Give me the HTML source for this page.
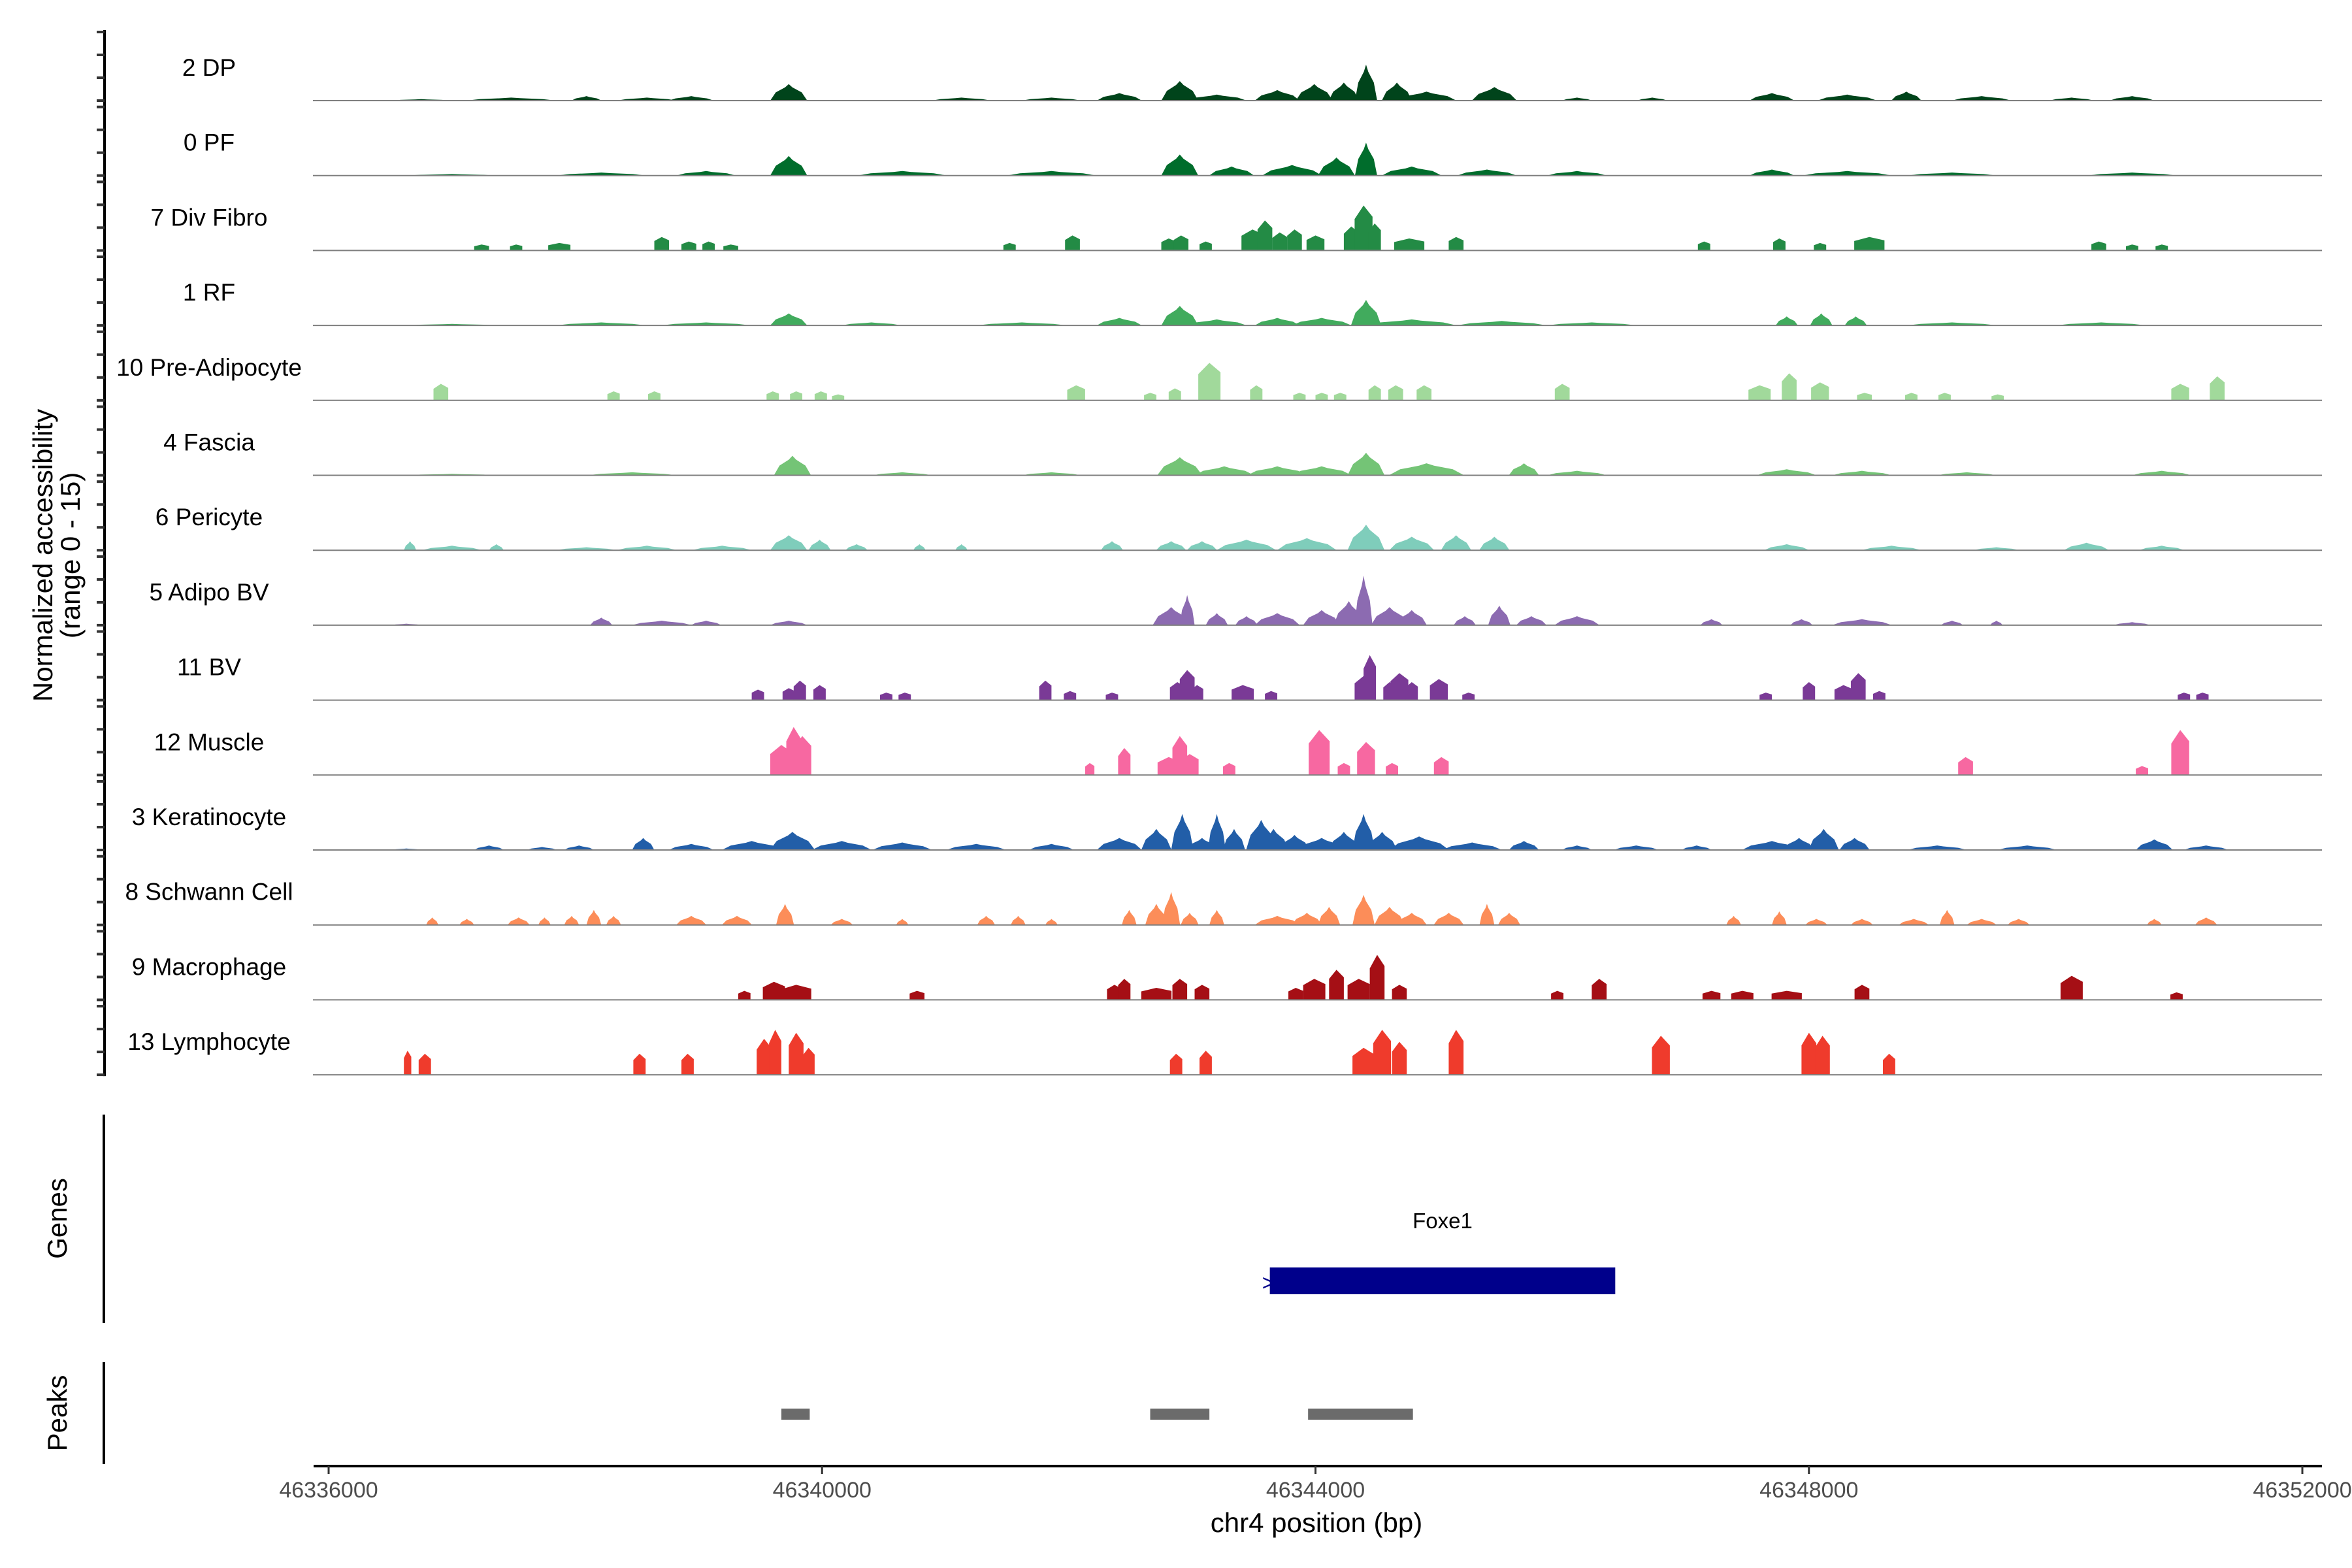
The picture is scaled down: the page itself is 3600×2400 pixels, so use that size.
<!DOCTYPE html>
<html><head><meta charset="utf-8"><style>
html,body{margin:0;padding:0;background:#fff;}
svg{display:block;font-family:"Liberation Sans",Arial,sans-serif;}
</style></head><body>
<svg id="chart" width="3600" height="2400" viewBox="0 0 3600 2400" xmlns="http://www.w3.org/2000/svg">
<g id="tracks"></g>
<text transform="translate(80,850) rotate(-90)" text-anchor="middle" font-size="42" fill="#000">Normalized accessibility</text>
<text transform="translate(122,850) rotate(-90)" text-anchor="middle" font-size="42" fill="#000">(range 0 - 15)</text>
<line x1="159" y1="1706" x2="159" y2="2025" stroke="#000" stroke-width="4"/>
<text transform="translate(102,1865) rotate(-90)" text-anchor="middle" font-size="42" fill="#000">Genes</text>
<g id="genes"></g>
<line x1="159" y1="2085" x2="159" y2="2241" stroke="#000" stroke-width="4"/>
<text transform="translate(102,2163) rotate(-90)" text-anchor="middle" font-size="42" fill="#000">Peaks</text>
<g id="peaks"></g>
<g id="xaxis"></g>
<text x="2015" y="2345" text-anchor="middle" font-size="42" fill="#000">chr4 position (bp)</text>
</svg>
<script>
// ---- data ----
const trackNames = ["2 DP","0 PF","7 Div Fibro","1 RF","10 Pre-Adipocyte","4 Fascia","6 Pericyte","5 Adipo BV","11 BV","12 Muscle","3 Keratinocyte","8 Schwann Cell","9 Macrophage","13 Lymphocyte"];
const trackColors = ["#00441b","#006d2c","#238b45","#41ab5d","#a1d99b","#74c476","#7fcdbb","#8c6bb1","#7a3a96","#f768a1","#225ea8","#fc8d59","#a50f15","#ef3b2c"];
const blocky = [false,false,true,false,true,false,false,false,true,true,false,false,true,true];
const xTicks = [46336000,46340000,46344000,46348000,46352000];
const xTickLabels = ["46336000","46340000","46344000","46348000","46352000"];
// peaks: [position bp, width bp, height (display units; 45.7 = 15)]
const dpPeaks=[[46336750,485,1],[46337480,730,2],[46338090,245,3],[46338580,485,2],[46338940,365,3],[46339730,300,11],[46341130,485,2],[46341860,485,2],[46342410,365,5],[46342900,300,13],[46343200,485,4],[46343690,365,7],[46343990,300,11],[46344230,245,12],[46344410,180,24],[46344660,245,12],[46344900,485,6],[46345450,365,9],[46346120,245,2],[46346730,245,2],[46347700,365,5],[46348310,485,4],[46348790,245,6],[46349400,485,3],[46350130,365,2],[46350620,365,3]];
const pfPeaks=[[46337000,730,1],[46338210,730,2],[46339060,485,3],[46339730,300,13],[46340650,730,3],[46341860,730,3],[46342900,300,14],[46343320,365,6],[46343810,485,7],[46344170,300,12],[46344410,180,22],[46344780,485,6],[46345390,485,4],[46346120,485,3],[46347700,365,4],[46348310,730,3],[46349160,730,2],[46350620,730,2]];
const divFibroPeaks=[[46337240,120,4],[46337520,100,4],[46337870,180,5],[46338700,120,9],[46338920,120,6],[46339080,100,6],[46339260,120,4],[46341520,100,5],[46342030,120,10],[46342810,120,8],[46342910,120,10],[46343110,100,6],[46343490,180,14],[46343590,120,20],[46343710,120,12],[46343830,120,14],[46344000,145,10],[46344290,120,16],[46344390,145,30],[46344480,100,18],[46344760,245,8],[46345140,120,9],[46347150,100,6],[46347760,100,8],[46348090,100,5],[46348490,245,9],[46350350,120,6],[46350620,100,4],[46350860,100,4]];
const rfPeaks=[[46337000,730,1],[46338210,730,2],[46339060,730,2],[46339730,300,8],[46340400,485,2],[46341620,730,2],[46342410,365,5],[46342900,300,13],[46343200,485,4],[46343690,365,5],[46344050,485,5],[46344410,245,17],[46344780,730,4],[46345510,730,3],[46346240,730,2],[46347820,180,6],[46348100,180,8],[46348380,180,6],[46349160,730,2],[46350370,730,2]];
const preAdPeaks=[[46336910,120,11],[46338310,100,6],[46338640,100,6],[46339600,100,6],[46339790,100,6],[46339990,100,6],[46340130,100,4],[46342060,145,10],[46342660,100,5],[46342860,100,8],[46343140,180,25],[46343520,100,10],[46343870,100,5],[46344050,100,5],[46344200,100,5],[46344480,100,10],[46344650,120,10],[46344880,120,10],[46346000,120,11],[46347600,180,10],[46347840,120,18],[46348090,145,12],[46348450,120,5],[46348830,100,5],[46349100,100,5],[46349530,100,4],[46351010,145,11],[46351310,120,16]];
const fasciaPeaks=[[46337000,730,1],[46338460,730,2],[46339760,300,13],[46340650,485,2],[46341860,485,2],[46342900,365,12],[46343260,485,6],[46343690,485,6],[46344050,485,6],[46344410,300,15],[46344900,610,8],[46345690,245,8],[46346120,485,3],[46347820,485,4],[46348430,485,3],[46349280,485,2],[46350860,485,3]];
const pericytePeaks=[[46336660,100,6],[46337000,485,3],[46337360,120,4],[46338090,485,2],[46338580,485,3],[46339190,485,3],[46339730,300,10],[46339980,180,7],[46340280,180,4],[46340790,100,4],[46341130,100,4],[46342350,180,6],[46342830,245,6],[46343080,245,6],[46343440,485,7],[46343930,485,8],[46344410,300,17],[46344780,365,9],[46345140,245,10],[46345450,245,9],[46347820,365,4],[46348670,485,3],[46349520,365,2],[46350250,365,5],[46350860,365,3]];
const adipoBvPeaks=[[46336630,245,1],[46338210,180,5],[46338700,485,3],[46339060,245,3],[46339730,300,3],[46342830,300,12],[46342960,120,20],[46343200,180,8],[46343440,180,6],[46343690,365,8],[46344050,300,10],[46344270,245,16],[46344390,145,33],[46344600,300,12],[46344780,245,10],[46345210,180,6],[46345490,180,13],[46345750,245,6],[46346120,365,6],[46347210,180,4],[46347940,180,4],[46348430,485,4],[46349160,180,3],[46349520,100,3],[46350620,300,2]];
const bvPeaks=[[46339480,100,7],[46339730,100,8],[46339820,100,13],[46339980,100,10],[46340520,100,5],[46340670,100,5],[46341810,100,13],[46342010,100,6],[46342350,100,5],[46342880,120,12],[46342960,120,20],[46343040,100,10],[46343410,180,10],[46343640,100,6],[46344390,145,16],[46344440,100,30],[46344600,100,12],[46344680,145,18],[46344780,100,12],[46345000,145,14],[46345240,100,5],[46347650,100,5],[46348000,100,12],[46348280,145,10],[46348400,120,18],[46348570,100,6],[46351040,100,5],[46351190,100,5]];
const musclePeaks=[[46339670,180,20],[46339770,120,32],[46339840,145,26],[46342170,75,8],[46342450,100,18],[46342810,180,12],[46342900,120,26],[46342980,145,14],[46343300,100,8],[46344030,170,30],[46344230,100,8],[46344410,145,22],[46344620,100,8],[46345020,120,12],[46349270,120,12],[46350700,100,6],[46351010,145,30]];
const keratPeaks=[[46336630,245,1],[46337300,245,3],[46337730,245,2],[46338030,245,3],[46338550,180,8],[46338940,365,4],[46339430,485,6],[46339760,365,12],[46340160,485,6],[46340650,485,5],[46341250,485,4],[46341860,365,4],[46342410,365,8],[46342710,245,14],[46342920,180,24],[46343080,245,8],[46343200,145,24],[46343340,180,14],[46343560,245,20],[46343660,245,14],[46343830,245,10],[46344050,365,8],[46344230,245,12],[46344390,180,24],[46344540,245,12],[46344840,485,9],[46345270,485,5],[46345690,245,6],[46346120,245,3],[46346600,365,3],[46347090,245,3],[46347700,485,6],[46347920,245,8],[46348120,245,14],[46348370,245,8],[46349040,485,3],[46349770,485,3],[46350800,300,7],[46351220,365,3]];
const schwannPeaks=[[46336840,100,5],[46337120,120,4],[46337540,180,5],[46337750,100,5],[46337970,120,6],[46338150,120,10],[46338310,120,6],[46338940,245,6],[46339310,245,6],[46339700,145,14],[46340160,180,4],[46340650,100,4],[46341330,145,6],[46341590,120,6],[46341860,100,4],[46342490,120,10],[46342710,180,14],[46342830,145,22],[46342980,145,8],[46343200,120,10],[46343690,365,6],[46343930,245,8],[46344110,180,12],[46344390,180,20],[46344600,245,12],[46344780,245,8],[46345080,245,8],[46345390,120,14],[46345570,180,8],[46347390,120,6],[46347760,120,9],[46348060,180,4],[46348430,180,4],[46348850,245,4],[46349120,120,10],[46349400,245,4],[46349700,180,4],[46350800,120,4],[46351220,180,5]];
const macroPeaks=[[46339370,100,6],[46339610,180,12],[46339790,245,10],[46340770,120,6],[46342370,120,10],[46342450,100,14],[46342710,245,8],[46342900,120,14],[46343080,120,10],[46343840,120,8],[46343990,180,14],[46344170,120,20],[46344350,180,14],[46344500,120,30],[46344680,120,10],[46345960,100,6],[46346300,120,14],[46347210,145,6],[46347460,180,6],[46347820,245,6],[46348430,120,10],[46350130,180,16],[46350980,100,5]];
const lymphoPeaks=[[46336640,60,16],[46336780,100,14],[46338520,100,14],[46338910,100,14],[46339530,120,24],[46339620,100,30],[46339790,120,28],[46339890,100,18],[46342870,100,14],[46343110,100,16],[46344390,180,18],[46344540,145,30],[46344680,120,22],[46345140,120,30],[46346800,145,26],[46348000,120,28],[46348110,120,26],[46348650,100,14]];
const allPeaks=[dpPeaks,pfPeaks,divFibroPeaks,rfPeaks,preAdPeaks,fasciaPeaks,pericytePeaks,adipoBvPeaks,bvPeaks,musclePeaks,keratPeaks,schwannPeaks,macroPeaks,lymphoPeaks];
const geneName="Foxe1";
const geneStart=46343630, geneEnd=46346430;
const peakRegions=[[46339670,46339900],[46342660,46343140],[46343940,46344790]];

// ---- scales ----
const NS="http://www.w3.org/2000/svg";
const X0=46336000,X1=46352000,PX0=503,PX1=3524;
function xs(bp){return PX0+(bp-X0)/(X1-X0)*(PX1-PX0);}
const baseY0=154, pitch=114.7, trackH=105, vMax=45.7;
function ys(i,v){return baseY0+i*pitch - v/vMax*trackH;}
function el(tag,attrs,parent){const e=document.createElementNS(NS,tag);for(const k in attrs)e.setAttribute(k,attrs[k]);parent.appendChild(e);return e;}

const tg=document.getElementById('tracks');
const ax=el('line',{x1:160,y1:46,x2:160,y2:baseY0+13*pitch+2,stroke:'#000','stroke-width':4},tg);


for(let i=0;i<trackNames.length;i++){
  const base=ys(i,0);
  for(let k=0;k<4;k++){
    const ty=base-k*trackH/3;
    const t=el('line',{x1:148,y1:ty,x2:160,y2:ty,stroke:'#333','stroke-width':4},tg);
    
    
  }
  const g=el('g',{},tg);
  
  
  const lab=el('text',{x:320,y:base-38,'text-anchor':'middle','font-size':37,fill:'#000'},g);
  lab.textContent=trackNames[i];
  
  
  allPeaks[i].forEach(p=>{
    const c=xs(p[0]),a=xs(p[0]-p[1]/2),b=xs(p[0]+p[1]/2),w=b-a,h=p[2];
    let pts;
    if(blocky[i]){
      pts=[[a,0],[a,h*0.7],[c,h],[b,h*0.75],[b,0]];
    }else{
      pts=[[a,0],[a+w*0.15,h*0.5],[c-w*0.1,h*0.8],[c,h],[c+w*0.1,h*0.8],[b-w*0.15,h*0.5],[b,0]];
    }
    const s=pts.map(q=>q[0].toFixed(1)+','+(base-q[1]/vMax*trackH).toFixed(1)).join(' ');
    const pg=el('polygon',{points:s,fill:trackColors[i]},g);
    
    
  });
  const bl=el('line',{x1:479,y1:base,x2:3554,y2:base,stroke:'#7f7f7f','stroke-width':2},g);
  
  
}
const gg=document.getElementById('genes');
const gb=el('rect',{x:xs(geneStart),y:1940,width:xs(geneEnd)-xs(geneStart),height:41,fill:'#00008b'},gg);


const ga=el('text',{x:xs(geneStart)-12,y:1975,'font-size':34,fill:'#00008b'},gg);
ga.textContent='>';


const gl=el('text',{x:(xs(geneStart)+xs(geneEnd))/2,y:1880,'text-anchor':'middle','font-size':33,fill:'#000'},gg);
gl.textContent=geneName;


const pk=document.getElementById('peaks');
peakRegions.forEach(r=>{
  const rr=el('rect',{x:xs(r[0]),y:2156,width:xs(r[1])-xs(r[0]),height:17,fill:'#6b6b6b'},pk);
  
  
});
const xa=document.getElementById('xaxis');
const xl=el('line',{x1:480,y1:2244,x2:3554,y2:2244,stroke:'#000','stroke-width':4},xa);


xTicks.forEach((t,i)=>{
  const tl=el('line',{x1:xs(t),y1:2244,x2:xs(t),y2:2256,stroke:'#333','stroke-width':3},xa);
  
  
  const tx=el('text',{x:xs(t),y:2292,'text-anchor':'middle','font-size':34,fill:'#4d4d4d'},xa);
  tx.textContent=xTickLabels[i];
  
  
});
</script>
</body></html>
